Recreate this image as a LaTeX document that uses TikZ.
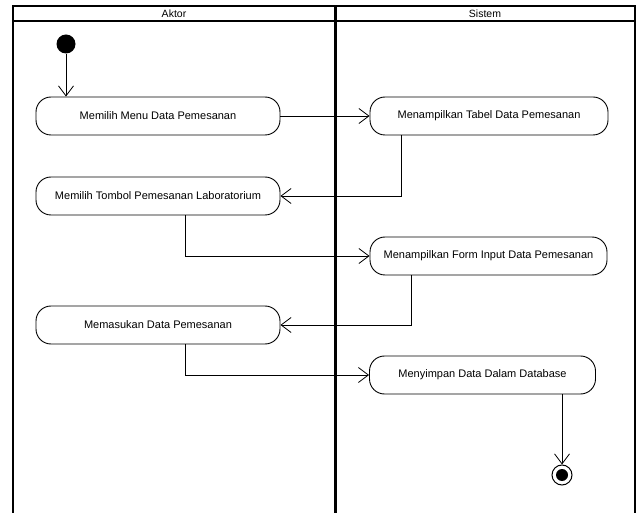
\documentclass[tikz,border=0pt]{standalone}
\usepackage{fontspec}
\setmainfont{Liberation Sans}
\usetikzlibrary{arrows.meta,shapes,positioning}
\tikzstyle{activity}=[draw,line width=0.9pt,rounded corners=15pt,minimum height=38pt,inner sep=0pt,font=\fontsize{11}{13}\selectfont]
\tikzstyle{flow} = [draw,line width=0.8pt,-{Straight Barb[length=10pt,width=15pt]}]
\tikzstyle{lane} = [draw,line width=2pt]
\tikzstyle{lanetitle} = [font=\fontsize{10.5}{12}\selectfont]

\begin{document}
\begin{tikzpicture}[x=1pt,y=-1pt]
\useasboundingbox (0,0) rectangle (638,513);

% Draw the swimlanes
\draw[lane] (12.7,513) -- (12.7,6) -- (635,6) -- (635,513);
\draw[lane] (12.7,20.7) -- (635,20.7);
\draw[lane,line width=2.6pt] (335.7,6) -- (335.7,513);
\node[lanetitle] (aktor) at (174,13.5) {Aktor};
\node[lanetitle] (sistem) at (485,13.5) {Sistem};

% Initial and final states
\node[circle,fill=black,minimum size=19pt,inner sep=0pt] (start) at (66,44) {};
\node[circle,draw,line width=1pt,minimum size=20pt,inner sep=0pt] (end) at (562,475) {};
\node[circle,fill=black,minimum size=12pt,inner sep=0pt] (endin) at (end) {};

% Then the activities
\foreach \pos/\name/\len/\txt in {{(158,116)/menu/244/Memilih Menu Data Pemesanan}, {(489,116)/tabel/238/Menampilkan Tabel Data Pemesanan}, {(158,196)/tombol/244/Memilih Tombol Pemesanan Laboratorium}, {(488.5,256)/form/237/Menampilkan Form Input Data Pemesanan}, {(158,325)/masuk/244/Memasukan Data Pemesanan}, {(482.5,375)/simpan/226/Menyimpan Data Dalam Database}}
\node[activity,minimum width=\len pt] (\name) at \pos {\txt};

% Connect activities with control flows
\draw[flow] (start) -- (start |- menu.north);
\draw[flow] (menu) -- (tabel);
\draw[flow] ([xshift=-88pt]tabel.south) |- (tombol.east);
\draw[flow] ([xshift=27.5pt]tombol.south) |- (form.west);
\draw[flow] ([xshift=-77pt]form.south) |- (masuk.east);
\draw[flow] ([xshift=27.5pt]masuk.south) |- (simpan.west);
\draw[flow] (simpan.south -| end) -- (end);

\end{tikzpicture}
\end{document}
